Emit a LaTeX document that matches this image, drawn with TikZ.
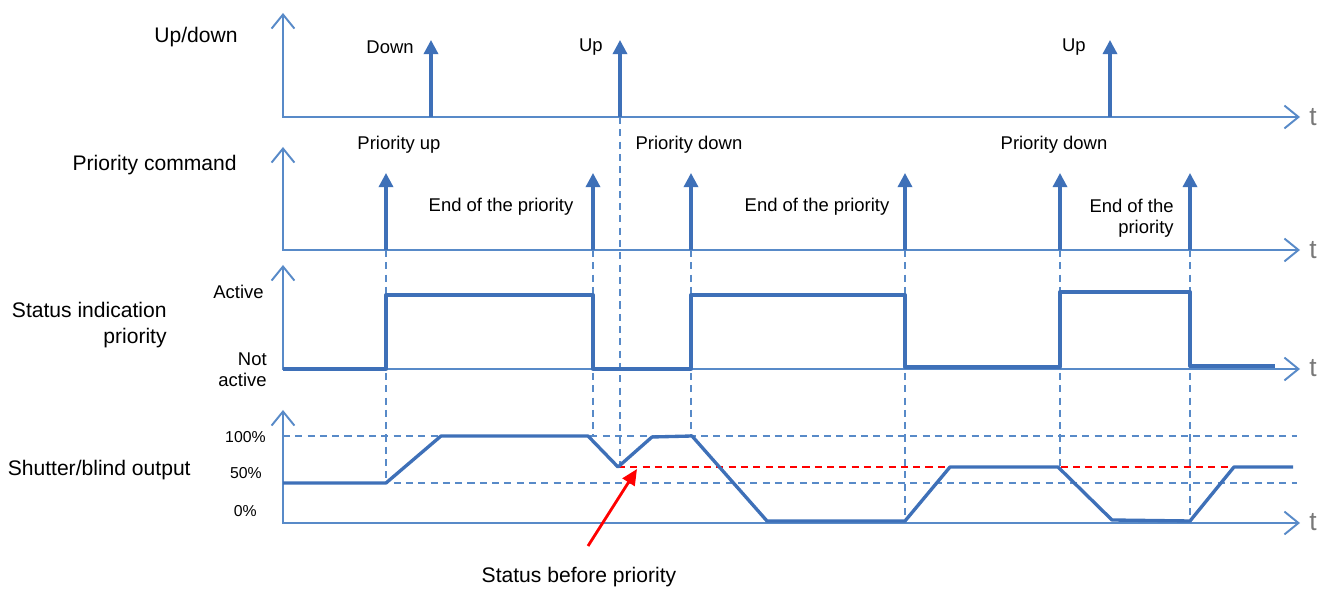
\documentclass[tikz,border=0pt]{standalone}
\usepackage{fontspec}
\setmainfont{Liberation Sans}
\usetikzlibrary{arrows.meta}
\definecolor{sigblue}{RGB}{62,112,184}
\definecolor{axisblue}{RGB}{88,138,200}
\definecolor{tgray}{RGB}{120,120,120}

\begin{document}
\begin{tikzpicture}[x=0.02cm, y=-0.02cm,
    axisline/.style={axisblue, line width=1.1pt, {Straight Barb[length=8pt, width=13pt, line width=1.1pt]}-{Straight Barb[length=8pt, width=13pt, line width=1.1pt]}},
    pulse/.style={sigblue, line width=1.8pt, -{Triangle[length=8pt, width=8pt]}},
    sig/.style={sigblue, line width=1.9pt, line join=round},
    guide/.style={axisblue, line width=0.9pt, dash pattern=on 4pt off 3pt},
    redguide/.style={red, line width=1.2pt, dash pattern=on 4pt off 3pt},
    lbl/.style={inner sep=0pt, font=\fontsize{10.5}{12}\selectfont},
    side/.style={inner sep=0pt, font=\fontsize{12}{14.8}\selectfont},
    tlabel/.style={inner sep=0pt, tgray, font=\fontsize{15}{15}\selectfont}]
  \useasboundingbox (0,0) rectangle (1326,590);

  % axes
  \draw[axisline] (283,13) -- (283,117) -- (1300,117);
  \draw[axisline] (283,147) -- (283,250) -- (1300,250);
  \draw[axisline] (283,265) -- (283,369) -- (1300,369);
  \draw[axisline] (283,410) -- (283,523) -- (1300,523);
  \node[tlabel] (t1) at (1313,117) {t};
  \node[tlabel] (t2) at (1313,250) {t};
  \node[tlabel] (t3) at (1313,368) {t};
  \node[tlabel] (t4) at (1313,522) {t};

  % guides
  \draw[guide] (283,436) -- (1297,436);
  \draw[guide] (283,483) -- (1297,483);
  \draw[guide] (386,250) -- (386,483);
  \draw[guide] (593,250) -- (593,436);
  \draw[guide] (620,117) -- (620,467);
  \draw[guide] (691,250) -- (691,436);
  \draw[guide] (905,250) -- (905,523);
  \draw[guide] (1060,250) -- (1060,467);
  \draw[guide] (1190,250) -- (1190,523);
  \draw[redguide] (618,467) -- (1233,467);

  % up/down
  \foreach \x in {431,620,1110}
    \draw[pulse] (\x,117) -- (\x,40);
  \node[side, anchor=east] (updown) at (238,37) {Up/down};
  \node[lbl, anchor=east] (down) at (414,47) {Down};
  \node[lbl, anchor=east] (up1) at (603,47) {Up};
  \node[lbl, anchor=east] (up2) at (1086,47) {Up};

  % priority command
  \foreach \x in {386,593,691,905,1060,1190}
    \draw[pulse] (\x,250) -- (\x,173);
  \node[side, anchor=east] (prio) at (237,165) {Priority command};
  \node[lbl] (prioup) at (399,145) {Priority up};
  \node[lbl] (priodown1) at (689,145) {Priority down};
  \node[lbl] (priodown2) at (1054,145) {Priority down};
  \node[lbl] (end1) at (501,207) {End of the priority};
  \node[lbl] (end2) at (817,207) {End of the priority};
  \node[lbl, anchor=north east, align=right] (end3) at (1174,199) {End of the\\priority};

  % status indication
  \node[side, anchor=east, align=right] (status) at (167,325) {Status indication\\priority};
  \node[lbl, anchor=east] (active) at (264,292) {Active};
  \node[lbl, anchor=north east, align=right] (notactive) at (267,352) {Not\\active};
  \draw[sig] (283,369) -- (386,369) -- (386,295) -- (593,295) -- (593,369) -- (691,369) -- (691,295) -- (905,295)
    -- (905,367) -- (1060,367) -- (1060,292) -- (1190,292) -- (1190,366) -- (1275,366);

  % shutter/blind output
  \node[side, anchor=east] (output) at (191,470) {Shutter/blind output};
  \node[lbl, anchor=east, font=\fontsize{9}{11}\selectfont] (full) at (266,437) {100\%};
  \node[lbl, anchor=east, font=\fontsize{9}{11}\selectfont] (half) at (262,473) {50\%};
  \node[lbl, anchor=east, font=\fontsize{9}{11}\selectfont] (zero) at (257,511) {0\%};
  \draw[sig] (283,483) -- (386,483) -- (441,436) -- (588,436) -- (618,467) -- (652,437) -- (692,436) -- (767,521)
    -- (905,521) -- (950,467) -- (1058,467) -- (1112,520) -- (1190,521) -- (1234,467) -- (1293,467);

  % status before priority
  \node[side] (before) at (579,577) {Status before priority};
  \coordinate (redtail) at (588,546);
  \coordinate (redtip) at (637,469);
  \draw[red, line width=1.6pt, -{Triangle[length=9pt, width=8pt]}] (redtail) -- (redtip);
\end{tikzpicture}
\end{document}
